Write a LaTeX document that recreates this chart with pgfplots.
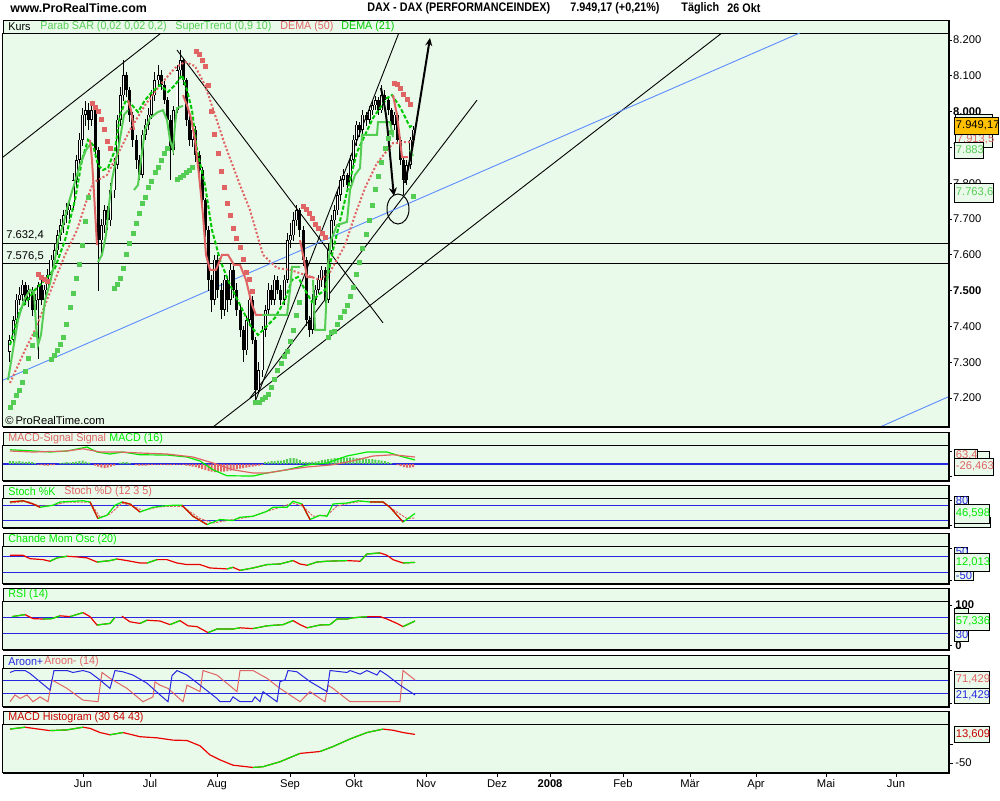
\documentclass[border=0pt]{standalone}
\usepackage{pgfplots}
\pgfplotsset{compat=1.18}
\usepackage{pgfplotstable}
\usepackage{fontspec}
\setmainfont{Liberation Sans}
\newfontfamily\nf[FakeStretch=0.87]{Liberation Sans}
\newfontfamily\nfs[FakeStretch=0.94]{Liberation Sans}
\usetikzlibrary{arrows.meta}

\definecolor{bgc}{RGB}{234,250,234}
\definecolor{sal}{RGB}{224,100,100}
\definecolor{lgr}{RGB}{85,205,85}
\definecolor{dgr}{RGB}{0,200,0}
\definecolor{bgr}{RGB}{0,235,0}
\definecolor{ired}{RGB}{235,0,0}
\definecolor{blu}{RGB}{40,40,225}
\definecolor{tblu}{RGB}{90,140,255}
\definecolor{orng}{RGB}{255,192,0}
\definecolor{dred}{RGB}{200,0,0}

\newcommand{\fs}{\fontsize{5.6}{6.5}\selectfont}
\newcommand{\fsn}{\nfs\fontsize{5.7}{6.5}\selectfont}
\newcommand{\fsT}{\fontsize{6.2}{7}\selectfont}
\newcommand{\valbox}[7]{\draw[fill=#5, line width=0.5pt] (#1,#2) rectangle (#3,#4); \node[font=\fs, text=#6, inner sep=0, anchor=west] at ({#1+1.5},{(#2+#4)/2}) {#7};}

\pgfplotstableread{
x o h l c
10.0 7330 7375 7300 7362
13.2 7362 7430 7350 7418
16.3 7418 7490 7405 7474
19.5 7474 7510 7460 7488
22.6 7488 7530 7470 7516
25.8 7516 7525 7460 7474
28.9 7474 7515 7455 7502
32.1 7502 7510 7430 7446
35.2 7446 7490 7420 7474
38.4 7474 7525 7310 7516
41.5 7516 7530 7460 7474
44.7 7474 7515 7460 7502
47.8 7502 7560 7490 7544
51.0 7544 7600 7530 7586
54.1 7586 7630 7570 7613
57.3 7613 7670 7600 7655
60.4 7655 7700 7640 7683
63.6 7683 7725 7660 7711
66.7 7711 7745 7690 7725
69.9 7725 7760 7700 7739
73.0 7739 7830 7725 7809
76.2 7809 7880 7790 7865
79.3 7865 7940 7850 7921
82.5 7921 8010 7905 7991
85.6 7991 8030 7960 8004
88.8 8004 8025 7950 7977
91.9 7977 8020 7960 8004
95.1 8004 8010 7870 7893
98.2 7893 7900 7500 7641
101.4 7641 7700 7600 7683
104.5 7683 7740 7660 7725
107.7 7725 7735 7670 7697
110.8 7697 7800 7680 7781
114.0 7781 7870 7760 7851
117.1 7851 7990 7840 7977
120.3 7977 8070 7960 8046
123.4 8046 8144 8030 8102
126.6 8102 8110 8040 8060
129.7 8060 8070 7970 7991
132.9 7991 8000 7900 7921
136.0 7921 7935 7840 7865
139.2 7865 7880 7809 7823
142.3 7823 7950 7815 7935
145.5 7935 7980 7920 7963
148.6 7963 8010 7950 7991
151.8 7991 8060 7980 8046
154.9 8046 8110 8030 8088
158.1 8088 8130 8070 8102
161.2 8102 8115 8060 8074
164.4 8074 8085 8020 8032
167.5 8032 8040 7960 7977
170.7 7977 7990 7809 7893
173.8 7893 8015 7880 8004
177.0 8004 8130 7995 8116
180.1 8116 8172 8100 8144
183.3 8144 8150 8075 8088
186.4 8088 8095 7960 7977
189.6 7977 7990 7905 7921
192.7 7921 7965 7900 7949
195.9 7949 7960 7860 7879
199.0 7879 7890 7820 7837
202.2 7837 7845 7740 7753
205.3 7753 7760 7650 7669
208.5 7669 7680 7500 7530
211.6 7530 7545 7440 7474
214.8 7474 7600 7460 7586
217.9 7586 7600 7480 7502
221.1 7502 7520 7420 7446
224.2 7446 7545 7430 7530
227.4 7530 7540 7440 7474
230.5 7474 7575 7460 7558
233.7 7558 7570 7480 7502
236.8 7502 7520 7430 7446
240.0 7446 7460 7370 7390
243.1 7390 7400 7300 7334
246.3 7334 7430 7320 7418
249.4 7418 7490 7400 7474
252.6 7474 7485 7350 7362
255.7 7362 7370 7195 7222
258.9 7222 7300 7210 7278
262.0 7278 7400 7260 7390
265.2 7390 7460 7370 7446
268.3 7446 7520 7430 7502
271.5 7502 7515 7460 7474
274.6 7474 7545 7460 7530
277.8 7530 7540 7490 7502
280.9 7502 7515 7460 7474
284.1 7474 7545 7460 7530
287.2 7530 7660 7520 7641
290.4 7641 7690 7620 7655
293.5 7655 7720 7640 7697
296.7 7697 7739 7680 7725
299.8 7725 7730 7650 7669
303.0 7669 7680 7570 7586
306.1 7586 7595 7400 7418
309.3 7418 7430 7370 7390
312.4 7390 7490 7380 7474
315.6 7474 7515 7460 7502
318.7 7502 7545 7490 7530
321.9 7530 7570 7510 7558
325.0 7558 7565 7460 7474
328.2 7474 7630 7465 7613
331.3 7613 7710 7600 7697
334.5 7697 7740 7680 7725
337.6 7725 7780 7710 7767
340.8 7767 7820 7750 7809
343.9 7809 7840 7790 7823
347.1 7823 7830 7780 7795
350.2 7795 7880 7785 7865
353.4 7865 7935 7850 7921
356.5 7921 7975 7905 7963
359.7 7963 7970 7930 7949
362.8 7949 8005 7935 7991
366.0 7991 8000 7960 7977
369.1 7977 8015 7965 8004
372.3 8004 8030 7990 8018
375.4 8018 8045 8005 8032
378.6 8032 8040 7990 8004
381.7 8004 8074 7995 8046
384.9 8046 8060 8020 8032
388.0 8032 8040 7990 8004
391.2 8004 8010 7950 7963
394.3 7963 8000 7950 7991
397.5 7991 7995 7910 7921
400.6 7921 7930 7850 7865
403.8 7865 7875 7767 7809
406.9 7809 7865 7795 7851
410.1 7851 7930 7840 7921
413.2 7921 7960 7910 7949
}\candles

\pgfplotsset{
  panel/.style={
    scale only axis, anchor=north west, width=472.5pt,
    xmin=3, xmax=948, xtick=\empty,
    axis background/.style={fill=bgc},
    axis line style={line width=0.5pt},
    tick align=outside, major tick length=1.8pt,
    tick style={black, line width=0.5pt},
    ytick pos=right, yticklabel pos=right,
    yticklabel style={font=\fs, inner sep=0.6pt},
  },
  candle/.style={draw=none, mark=none, error bars/.cd, y dir=both, y explicit, error mark=none},
}

\begin{document}
\begin{tikzpicture}
\fill[white] (0,0) rectangle (500pt,-400pt);
\path[use as bounding box] (0,0) rectangle (500pt,-400pt);

\begin{scope}[x=0.5pt,y=-0.5pt]
\node[anchor=west, font=\bfseries\fsT, inner sep=0] at (10,8.5) {www.ProRealTime.com};
\node[anchor=west, font=\nf\bfseries\fsT, inner sep=0] at (367,8.5) {DAX - DAX (PERFORMANCEINDEX)};
\node[anchor=west, font=\nf\bfseries\fsT, inner sep=0] at (570,8.5) {7.949,17 (+0,21\%)};
\node[anchor=west, font=\nf\bfseries\fsT, inner sep=0] at (681,8.5) {Täglich};
\node[anchor=west, font=\nf\bfseries\fsT, inner sep=0] at (727,8.5) {26 Okt};
\foreach \a/\b in {20/33,432/445,485/498,533/546,588/601,655/668,711/724} {\draw[fill=bgc, line width=0.5pt] (3,\a) rectangle (948,\b);}
\end{scope}

% ===== MAIN PRICE PANEL =====
\begin{axis}[panel, at={(1.5pt,-16.5pt)}, height=196.5pt, ymin=7121.8, ymax=8219.6,
  ytick={7200,7300,7400,7500,7600,7700,7800,7900,8000,8100,8200},
  yticklabels={7.200,7.300,7.400,\textbf{7.500},7.600,7.700,7.800,7.900,\textbf{8.000},8.100,8.200}]
\addplot[black, line width=0.6pt] coordinates {(3,7632.4) (948,7632.4)};
\addplot[black, line width=0.6pt] coordinates {(3,7576.5) (948,7576.5)};
\addplot[black, line width=0.45pt] coordinates {(3,7873) (180,8261)};
\addplot[black, line width=0.45pt] coordinates {(177,8172) (383,7410)};
\addplot[black, line width=0.45pt] coordinates {(250,7200) (477,8032)};
\addplot[black, line width=0.45pt] coordinates {(255,7189) (400,8228)};
\addplot[black, line width=0.45pt] coordinates {(213,7119) (722,8220)};
\addplot[tblu, line width=0.45pt] coordinates {(3,7250) (800,8220)};
\addplot[tblu, line width=0.45pt] coordinates {(880,7119) (948,7203)};
% candles: wicks, bodies, white interior of rising candles
\addplot[candle, error bar style={draw=black, line width=0.5pt}]
  table[x=x, y expr={(\thisrow{h}+\thisrow{l})/2}, y error expr={(\thisrow{h}-\thisrow{l})/2}] {\candles};
\addplot[candle, error bar style={draw=black, line width=1.5pt}]
  table[x=x, y expr={(\thisrow{o}+\thisrow{c})/2}, y error expr={max(abs(\thisrow{o}-\thisrow{c})/2,1.5)}] {\candles};
\addplot[candle, error bar style={draw=white, line width=0.55pt}]
  table[x=x, y expr={(\thisrow{o}+\thisrow{c})/2}, y error expr={max((\thisrow{c}-\thisrow{o})/2-1.5,0)}] {\candles};
% DEMA 50
\addplot[sal, line width=1pt, dash pattern=on 1pt off 1pt] coordinates {
(10,7242) (25,7334) (35,7390) (43,7446) (57,7544) (65,7600) (77,7669) (85,7739) (93,7801) (107,7823) (120,7893) (130,7949) (145,8018) (160,8074) (175,8122) (185,8139) (195,8127) (205,8074) (215,7991) (225,7907) (240,7795) (250,7725) (263,7600) (277,7563) (290,7558) (305,7544) (320,7530) (330,7552) (345,7627) (355,7711) (365,7787) (377,7856) (393,7912) (405,7915) (413,7915)};
% DEMA 21
\addplot[dgr, line width=1pt, dash pattern=on 2pt off 1pt] coordinates {
(10,7348) (20,7446) (35,7502) (45,7530) (55,7563) (65,7641) (75,7753) (82,7865) (88,7921) (93,7907) (98,7851) (103,7837) (108,7843) (115,7893) (120,7991) (126,8032) (132,8018) (138,7999) (145,8032) (152,8055) (160,8074) (168,8055) (175,8074) (182,8102) (187,8060) (192,8004) (197,7893) (205,7795) (212,7669) (220,7586) (230,7516) (240,7460) (250,7404) (258,7376) (265,7396) (275,7424) (285,7474) (292,7530) (298,7538) (305,7502) (312,7468) (318,7488) (325,7502) (333,7613) (345,7753) (357,7887) (373,7982) (387,8038) (392,8046) (400,8013) (410,7957) (413,7963)};
% SuperTrend
\addplot[lgr, line width=1pt] coordinates {(8,7250) (13,7334) (18,7418) (24,7474) (30,7502) (34,7496) (36,7404) (38,7348) (41,7376) (45,7474) (50,7521) (54,7572) (58,7641) (63,7683) (68,7739) (74,7795) (80,7851) (86,7893) (90,7907)};
\addplot[sal, line width=1pt] coordinates {(90,7921) (92,7865) (95,7725) (97,7627)};
\addplot[lgr, line width=1pt] coordinates {(98,7580) (102,7600) (106,7655) (109,7739) (112,7809) (115,7851) (119,7907) (124,7991) (128,8004)};
\addplot[sal, line width=1pt] coordinates {(128,8032) (131,8004) (134,7949)};
\addplot[lgr, line width=1pt] coordinates {(134,7781) (138,7795) (141,7865) (145,7949) (150,7982) (158,7999) (163,8004) (167,7977) (170,7921) (173,7893) (175,7963) (177,8010) (183,8016)};
\addplot[sal, line width=1pt] coordinates {(183,8046) (187,8018) (191,7982) (195,7921) (199,7823) (203,7711) (206,7600) (210,7558) (216,7558) (222,7600) (228,7600) (234,7572) (240,7572) (246,7530) (252,7460) (256,7432) (262,7432)};
\addplot[lgr, line width=1pt] coordinates {(262,7432) (287,7432) (290,7502) (292,7566) (300,7566)};
\addplot[sal, line width=1pt] coordinates {(300,7641) (304,7586) (307,7538) (313,7538)};
\addplot[lgr, line width=1pt] coordinates {(313,7530) (315,7390) (325,7390) (328,7572) (331,7641) (337,7683) (347,7692) (350,7781) (355,7823) (360,7842) (362,7935) (377,7935) (378,7971) (390,7971) (393,7929)};
\addplot[sal, line width=1pt] coordinates {(393,8046) (397,7991) (400,7921) (402,7873) (408,7873)};
\addplot[lgr, line width=1pt] coordinates {(410,7893) (413,7876)};
% Parabolic SAR
\addplot[only marks, mark=square*, mark size=1pt, mark options={fill=lgr, draw=lgr}] coordinates {
(10.0,7175) (13.2,7189) (16.3,7206) (19.5,7222) (22.6,7245) (25.8,7273) (28.9,7312) (32.1,7348) (35.2,7379)
(51.0,7309) (54.1,7320) (57.3,7334) (60.4,7351) (63.6,7370) (66.7,7407) (69.9,7454) (73.0,7493) (76.2,7535) (79.3,7572) (82.5,7627) (85.6,7694) (88.8,7761)
(114.0,7507) (117.1,7516) (120.3,7535) (123.4,7563) (126.6,7600) (129.7,7633) (132.9,7661) (136.0,7689) (139.2,7717) (142.3,7745) (145.5,7761) (148.6,7787) (151.8,7806) (154.9,7829) (158.1,7845) (161.2,7865) (164.4,7884) (167.5,7898)
(177.0,7812) (180.1,7817) (183.3,7823) (186.4,7831) (189.6,7837) (192.7,7845)
(255.7,7189) (258.9,7189) (262.0,7195) (265.2,7203) (268.3,7211) (271.5,7231) (274.6,7253) (277.8,7276) (280.9,7298) (284.1,7315) (287.2,7329) (290.4,7357) (293.5,7390) (296.7,7432) (299.8,7468)
(328.2,7370) (331.3,7382) (334.5,7387) (337.6,7407) (340.8,7426) (343.9,7443) (347.1,7460) (350.2,7485) (353.4,7510) (356.5,7544) (359.7,7580) (362.8,7619) (366.0,7658) (369.1,7697) (372.3,7739) (375.4,7784) (378.6,7820) (381.7,7859) (384.9,7896) (388.0,7926) (391.2,7943)
(413.2,7764)};
\addplot[only marks, mark=square*, mark size=1pt, mark options={fill=sal, draw=sal}] coordinates {
(38.4,7544) (41.5,7538) (44.7,7532) (47.8,7527)
(91.9,8024) (95.1,8013) (98.2,8002) (101.4,7977) (104.5,7949) (107.7,7918) (110.8,7896)
(195.9,8169) (199.0,8161) (202.2,8144) (205.3,8125) (208.5,8074) (211.6,8002) (214.8,7937) (217.9,7884) (221.1,7834) (224.2,7789) (227.4,7745) (230.5,7711) (233.7,7675) (236.8,7647) (240.0,7622) (243.1,7588) (246.3,7552) (249.4,7530) (252.6,7499)
(303.0,7734) (306.1,7728) (309.3,7717) (312.4,7703) (315.6,7686) (318.7,7675) (321.9,7661) (325.0,7650)
(394.3,8080) (397.5,8077) (400.6,8066) (403.8,8049) (406.9,8035) (410.1,8021)};
% hand drawn arrows and circle
\addplot[black, line width=1pt, smooth, -{Stealth[length=4pt,width=4pt]}] coordinates {(381,8066) (386,7990) (390,7880) (393,7790) (394,7765)};
\addplot[black, line width=1pt, -{Stealth[length=4pt,width=3.5pt]}] coordinates {(405,7801) (412,7893) (420,8032) (430,8206)};
\draw[black, line width=0.5pt] (axis cs:398,7728) ellipse [x radius=5.5pt, y radius=7.5pt];
\end{axis}

% ===== MACD =====
\begin{axis}[panel, at={(1.5pt,-222.5pt)}, height=17.5pt, ymin=-64, ymax=76, ytick={50,-50}, yticklabels={{},{}}]
\addplot[blu, line width=0.6pt] coordinates {(3,0) (948,0)};
\addplot[ybar, bar width=1pt, bar shift=0pt, fill=lgr, draw=none] coordinates {
(10.0,12) (13.2,12) (16.3,10) (19.5,12) (22.6,10) (25.8,8) (28.9,10) (32.1,8) (35.2,4)
(60.4,4) (63.6,6) (66.7,8) (69.9,6) (73.0,8) (76.2,10) (79.3,12) (82.5,14) (85.6,10) (88.8,6)
(120.3,6) (123.4,8) (126.6,8) (129.7,4)
(265.2,8) (268.3,10) (271.5,12) (274.6,12) (277.8,14) (280.9,14) (284.1,16) (287.2,20) (290.4,24) (293.5,24) (296.7,22) (299.8,16)
(303.0,8) (306.1,8) (309.3,8) (312.4,10) (315.6,10) (318.7,12)
(321.9,16) (325.0,18) (328.2,20) (331.3,22) (334.5,24) (337.6,24) (340.8,26) (343.9,26) (347.1,26) (350.2,26) (353.4,26) (356.5,24) (359.7,24) (362.8,22) (366.0,22) (369.1,20) (372.3,20) (375.4,18) (378.6,16) (381.7,14) (384.9,12) (388.0,8) (391.2,4)};
\addplot[ybar, bar width=1pt, bar shift=0pt, fill=sal, draw=none] coordinates {
(38.4,-2) (41.5,-4) (44.7,-6) (47.8,-6) (51.0,-4) (54.1,-4)
(95.1,-6) (98.2,-10) (101.4,-14) (104.5,-16) (107.7,-14) (110.8,-10) (114.0,-6)
(136.0,-4) (139.2,-6) (142.3,-6) (145.5,-6) (148.6,-4) (151.8,-4) (154.9,-2) (158.1,-2) (161.2,-3) (164.4,-3) (167.5,-4) (170.7,-4) (173.8,-3) (177.0,-2) (180.1,-2) (183.3,-3)
(186.4,-6) (189.6,-8) (192.7,-10) (195.9,-12) (199.0,-16) (202.2,-20) (205.3,-24) (208.5,-28) (211.6,-30) (214.8,-32) (217.9,-32) (221.1,-30) (224.2,-30) (227.4,-28) (230.5,-26) (233.7,-24) (236.8,-20) (240.0,-18) (243.1,-16) (246.3,-14) (249.4,-12) (252.6,-10) (255.7,-8) (258.9,-6) (262.0,-4)
(397.5,-4) (400.6,-8) (403.8,-12) (406.9,-14) (410.1,-14) (413.2,-12)};
\addplot[bgr, line width=0.6pt] coordinates {(10,57) (30,53) (50,48) (67,52) (87,68) (97,48) (110,40) (123,48) (140,37) (167,36) (187,28) (200,12) (213,-23) (227,-47) (253,-48) (267,-36) (287,-23) (307,-4) (327,4) (347,32) (367,48) (387,48) (400,32) (415,16)};
\addplot[sal, line width=0.6pt] coordinates {(10,52) (33,48) (67,52) (83,61) (100,48) (120,48) (140,44) (167,40) (193,28) (213,4) (233,-23) (253,-36) (267,-36) (287,-23) (307,-12) (333,-3) (353,13) (373,32) (393,37) (415,28)};
\end{axis}

% ===== STOCH =====
\begin{axis}[panel, at={(1.5pt,-249pt)}, height=14.5pt, ymin=-7, ymax=109, ytick={0,100}, yticklabels={{},{}}]
\addplot[blu, line width=0.6pt] coordinates {(3,80) (948,80)};
\addplot[blu, line width=0.6pt] coordinates {(3,20) (948,20)};
\addplot[sal, line width=0.5pt, dash pattern=on 1.2pt off 0.6pt] coordinates {(10,89) (27,96) (40,76) (53,80) (67,93) (90,93) (100,32) (110,45) (122,89) (133,76) (143,59) (157,72) (167,76) (182,76) (200,27) (213,9) (227,19) (240,27) (253,36) (267,56) (280,72) (293,89) (303,76) (313,36) (327,40) (337,76) (350,89) (363,96) (383,93) (393,63) (407,27) (415,29)};
\addplot[bgr, line width=0.6pt] coordinates {(10,93) (23,98) (33,85) (40,72) (53,80) (60,93) (83,98) (90,93) (98,27) (107,40) (115,80) (122,93) (130,85) (140,53) (153,72) (163,77) (173,80) (182,80) (193,36) (207,3) (220,23) (233,19) (240,32) (253,36) (267,56) (273,72) (287,72) (293,96) (302,85) (310,23) (320,40) (327,36) (333,85) (347,89) (358,98) (370,93) (383,93) (390,72) (403,13) (415,47)};
\addplot[ired, line width=0.6pt] coordinates {(10,93) (23,98) (33,85) (40,72)};
\addplot[ired, line width=0.6pt] coordinates {(90,93) (98,27)};
\addplot[ired, line width=0.6pt] coordinates {(122,93) (130,85) (140,53)};
\addplot[ired, line width=0.6pt] coordinates {(182,80) (193,36) (207,3)};
\addplot[ired, line width=0.6pt] coordinates {(302,85) (310,23)};
\addplot[ired, line width=0.6pt] coordinates {(370,93) (383,93) (390,72) (403,13)};
\end{axis}

% ===== CHANDE =====
\begin{axis}[panel, at={(1.5pt,-273pt)}, height=18.5pt, ymin=-117, ymax=114, ytick={100,-100}, yticklabels={{},{}}]
\addplot[blu, line width=0.6pt] coordinates {(3,50) (948,50)};
\addplot[blu, line width=0.6pt] coordinates {(3,-50) (948,-50)};
\addplot[ired, line width=0.6pt] coordinates {(10,56) (23,56) (30,35) (43,29) (50,19) (57,40) (67,50) (77,46) (87,40) (97,14) (110,23) (117,33) (127,23) (140,8) (147,8) (157,29) (167,29) (177,8) (187,-2) (200,-2) (210,-23) (227,-29) (233,-19) (240,-38) (253,-23) (267,-2) (280,2) (293,23) (300,2) (307,-6) (317,14) (327,19) (347,23) (360,19) (367,64) (380,71) (387,56) (393,29) (403,8) (415,12)};
\addplot[bgr, line width=0.6pt, unbounded coords=jump] coordinates {(50,19) (57,40) (67,50) (70,nan) (97,14) (110,23) (117,33) (120,nan) (147,8) (157,29) (160,nan) (227,-29) (233,-19) (235,nan) (240,-38) (253,-23) (267,-2) (280,2) (293,23) (295,nan) (307,-6) (317,14) (327,19) (347,23) (350,nan) (360,19) (367,64) (380,71) (385,nan) (403,8) (415,12)};
\end{axis}

% ===== RSI =====
\begin{axis}[panel, at={(1.5pt,-300.5pt)}, height=24pt, ymin=-9, ymax=111, ytick={0,100}, yticklabels={{},{}}]
\addplot[blu, line width=0.6pt] coordinates {(3,70) (948,70)};
\addplot[blu, line width=0.6pt] coordinates {(3,30) (948,30)};
\addplot[ired, line width=0.6pt, unbounded coords=jump] coordinates {(12,72) (25,77) (33,67) (43,66) (52,67) (60,74) (70,72) (83,82) (90,72) (97,51) (110,55) (115,70) (118,nan) (122,73) (130,59) (140,55) (147,63) (160,61) (170,52) (180,62) (188,49) (197,47) (208,32) (217,41) (233,41) (240,44) (253,42) (267,49) (283,52) (293,62) (300,52) (307,44) (320,51) (330,52) (337,66) (347,66) (353,69) (367,72) (380,72) (387,66) (397,55) (403,47) (415,61)};
\addplot[bgr, line width=0.6pt, unbounded coords=jump] coordinates {(12,72) (25,77) (30,nan) (43,66) (52,67) (60,74) (65,nan) (70,72) (83,82) (85,nan) (97,51) (110,55) (115,70) (118,nan) (140,55) (147,63) (150,nan) (170,52) (180,62) (185,nan) (208,32) (217,41) (233,41) (240,44) (245,nan) (253,42) (267,49) (283,52) (293,62) (295,nan) (307,44) (320,51) (330,52) (337,66) (347,66) (353,69) (367,72) (370,nan) (403,47) (415,61)};
\end{axis}

% ===== AROON =====
\begin{axis}[panel, at={(1.5pt,-334pt)}, height=19pt, ymin=-9.2, ymax=107.7, ytick={0,100}, yticklabels={{},{}}]
\addplot[blu, line width=0.6pt] coordinates {(3,70) (948,70)};
\addplot[blu, line width=0.6pt] coordinates {(3,30) (948,30)};
\addplot[sal, line width=0.5pt] coordinates {(10,4) (15,25) (20,14) (27,25) (33,4) (40,19) (48,4) (52,71) (67,45) (83,9) (98,4) (102,94) (110,76) (127,45) (143,4) (153,19) (155,65) (160,55) (168,45) (183,4) (187,55) (200,35) (203,100) (217,86) (237,35) (240,100) (253,100) (267,76) (280,45) (300,4) (310,35) (325,4) (328,55) (333,45) (350,4) (373,4) (393,4) (400,4) (403,100) (415,71)};
\addplot[blu, line width=0.5pt] coordinates {(10,94) (15,100) (25,100) (30,91) (50,40) (54,100) (67,100) (73,94) (83,100) (90,94) (100,71) (110,45) (115,100) (123,96) (133,86) (147,61) (160,25) (168,4) (172,84) (177,100) (187,86) (200,55) (217,14) (220,4) (230,4) (233,19) (240,4) (252,4) (255,19) (260,4) (263,35) (277,4) (280,66) (285,71) (288,100) (297,96) (310,66) (327,35) (330,100) (347,94) (350,100) (360,89) (367,100) (377,86) (380,100) (387,86) (400,55) (415,25)};
\end{axis}

% ===== MACD HISTOGRAM =====
\begin{axis}[panel, at={(1.5pt,-362pt)}, height=24pt, ymin=-73, ymax=53.4, ytick={0,-50}, yticklabels={{},{}},
  xtick={83,150,217,290,354,426,497,550,623,690,756,826,896}, xtick pos=bottom,
  xticklabels={Jun,Jul,Aug,Sep,Okt,Nov,Dez,\textbf{2008},Feb,Mär,Apr,Mai,Jun},
  xticklabel style={font=\fs, inner sep=0.5pt, yshift=-0.5pt}, major tick length=2.5pt]
\addplot[ired, line width=0.6pt] coordinates {(10,40) (25,45) (33,42) (50,36) (67,38) (83,45) (90,42) (100,31) (110,25) (123,31) (140,20) (157,17) (173,11) (187,10) (200,-4) (210,-28) (220,-41) (233,-55) (253,-61) (263,-59) (280,-46) (290,-35) (300,-24) (320,-19) (333,-6) (350,14) (367,31) (383,40) (393,37) (403,31) (415,26)};
\addplot[bgr, line width=0.6pt, unbounded coords=jump] coordinates {(10,40) (25,45) (30,nan) (50,36) (67,38) (83,45) (85,nan) (110,25) (123,31) (125,nan) (150,nan) (253,-61) (263,-59) (280,-46) (290,-35) (300,-24) (305,nan) (320,-19) (333,-6) (350,14) (367,31) (383,40)};
\end{axis}

\begin{scope}[x=0.5pt,y=-0.5pt]
\foreach \a/\b in {20/426, 432/480, 485/527, 533/583, 588/649, 655/706, 711/772} {\draw[line width=1pt] (3,{\b+0.8}) -- (948.8,{\b+0.8}) -- (948.8,\a);}
% strip labels
\node[anchor=west, font=\fsn, inner sep=0] at (8,26.5) {Kurs};
\node[anchor=west, font=\fsn, inner sep=0, text=lgr] at (40,26.5) {Parab SAR (0,02 0,02 0,2)};
\node[anchor=west, font=\fsn, inner sep=0, text=lgr] at (175,26.5) {SuperTrend (0,9 10)};
\node[anchor=west, font=\fsn, inner sep=0, text=sal] at (280,26.5) {DEMA (50)};
\node[anchor=west, font=\fsn, inner sep=0, text=dgr] at (341,26.5) {DEMA (21)};
\node[anchor=west, font=\fs, inner sep=0] at (6,235) {7.632,4};
\node[anchor=west, font=\fs, inner sep=0] at (6,256) {7.576,5};
\node[anchor=west, font=\fs, inner sep=0] at (5,420) {\textcopyright\,ProRealTime.com};
\node[anchor=west, font=\fsn, inner sep=0, text=sal] at (8,438.5) {MACD-Signal Signal};
\node[anchor=west, font=\fsn, inner sep=0, text=bgr] at (109,438.5) {MACD (16)};
\node[anchor=west, font=\fsn, inner sep=0, text=bgr] at (8,491.5) {Stoch \%K};
\node[anchor=west, font=\fsn, inner sep=0, text=sal] at (64,491.5) {Stoch \%D (12 3 5)};
\node[anchor=west, font=\fsn, inner sep=0, text=bgr] at (8,539.5) {Chande Mom Osc (20)};
\node[anchor=west, font=\fsn, inner sep=0, text=bgr] at (8,594.5) {RSI (14)};
\node[anchor=west, font=\fsn, inner sep=0, text=blu] at (8,661.5) {Aroon+};
\node[anchor=west, font=\fsn, inner sep=0, text=sal] at (44,661.5) {Aroon- (14)};
\node[anchor=west, font=\fsn, inner sep=0, text=dred] at (8,717.5) {MACD Histogram (30 64 43)};
% value boxes main
\valbox{955}{114}{992}{147}{bgc}{sal}{}
\node[anchor=west, font=\fs, inner sep=0, text=sal] at (956.5,139) {7.913,5};
\valbox{954}{142}{983}{158}{bgc}{lgr}{7.883}
\valbox{954}{117}{998}{134}{orng}{black}{7.949,17}
\valbox{954}{183}{993}{202}{bgc}{lgr}{7.763,6}
% MACD
\valbox{977}{451}{989}{461}{bgc}{bgr}{}
\valbox{954}{449}{977}{461}{bgc}{sal}{63,4}
\valbox{954}{458}{993}{475}{bgc}{sal}{-26,463}
% Stoch
\valbox{954}{496}{968}{506}{bgc}{blu}{80}
\valbox{954}{517}{990}{527}{bgc}{sal}{}
\valbox{954}{504}{989}{523}{bgc}{bgr}{46,598}
% Chande
\valbox{954}{547}{967}{556}{bgc}{blu}{50}
\valbox{954}{571}{973}{580}{bgc}{blu}{-50}
\valbox{954}{553}{989}{571}{bgc}{bgr}{12,013}
% RSI
\node[anchor=west, font=\bfseries\fs, inner sep=0] at (955,605) {100};
\node[anchor=west, font=\bfseries\fs, inner sep=0] at (955,645.5) {0};
\valbox{954}{608}{968}{641}{bgc}{blu}{}
\node[anchor=west, font=\fs, inner sep=0, text=blu] at (955.5,635) {30};
\valbox{954}{613}{989}{630}{bgc}{bgr}{57,336}
% Aroon
\valbox{954}{671}{989}{688}{bgc}{sal}{71,429}
\valbox{954}{688}{989}{703}{bgc}{blu}{21,429}
% MACD hist
\valbox{954}{726}{989}{742}{bgc}{dred}{13,609}
\node[anchor=west, font=\fs, inner sep=0] at (955,763) {-50};
\end{scope}
\end{tikzpicture}
\end{document}
